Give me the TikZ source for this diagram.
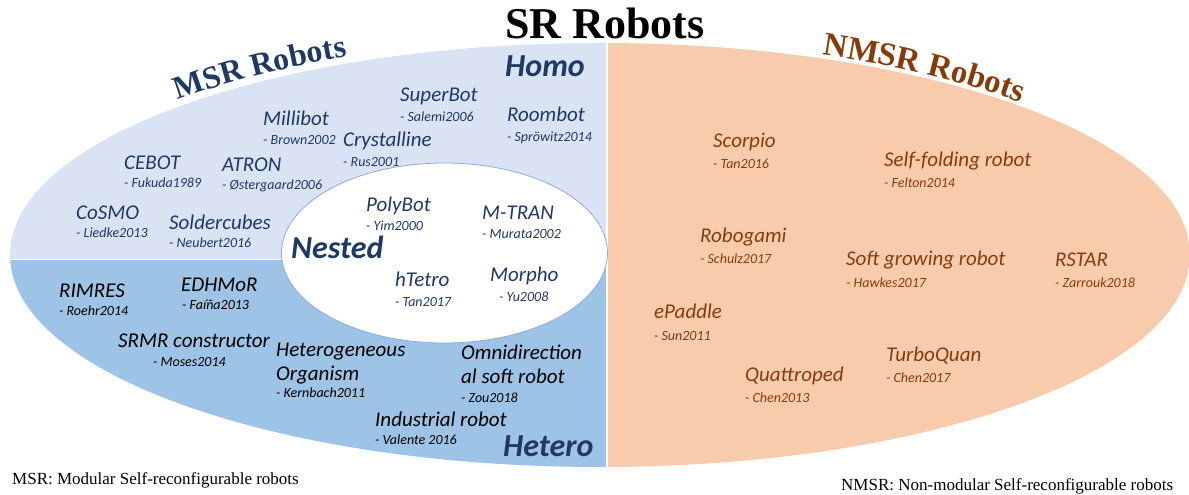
\documentclass[tikz,border=0pt]{standalone}
\usepackage{fontspec}
\setmainfont{Liberation Serif}
\newfontfamily\calfont{Carlito}
\usepackage{tikz}
\usetikzlibrary{positioning,decorations.text}

\definecolor{msrtop}{HTML}{DAE3F3}
\definecolor{msrbot}{HTML}{9DC3E6}
\definecolor{nmsrfill}{HTML}{F8CBAD}
\definecolor{navy}{HTML}{1F3864}
\definecolor{brownish}{HTML}{843C0C}
\definecolor{nestline}{HTML}{8FAADC}

\begin{document}
\begin{tikzpicture}[x=1pt, y=1pt,
    robot/.style={anchor=base west, inner sep=0pt, font=\calfont\itshape\fontsize{21}{24}\selectfont},
    refl/.style={inner sep=0pt, font=\calfont\itshape\fontsize{14}{16}\selectfont},
    classlbl/.style={anchor=base west, inner sep=0pt, text=navy, font=\calfont\bfseries\itshape\fontsize{32}{34}\selectfont},
    footnote/.style={anchor=base west, inner sep=0pt, font=\fontsize{17}{19}\selectfont}]
    \useasboundingbox (0,0) rectangle (1189,495);

    % Regions
    \begin{scope}
        \clip (600,240) ellipse [x radius=590, y radius=212];
        \fill[msrtop] (0,235.5) rectangle (606,495);
        \fill[msrbot] (0,0) rectangle (606,234.5);
        \fill[nmsrfill] (608,0) rectangle (1189,495);
    \end{scope}
    \draw[nestline, line width=0.8pt, fill=white] (444.5,242) ellipse [x radius=163, y radius=90];

    % Titles
    \node[anchor=base, inner sep=0pt, font=\bfseries\fontsize{44}{44}\selectfont] (title) at (605,456) {SR Robots};
    \path[decorate, decoration={text along path, text align=left, text color=navy,
        text={|\bfseries\fontsize{32}{32}\selectfont|MSR Robots}}]
        (177.9,394.9) arc[start angle=135, end angle=108, x radius=597, y radius=219];
    \path[decorate, decoration={text along path, text align=left, text color=brownish,
        text={|\bfseries\fontsize{33}{33}\selectfont|NMSR Robots}}]
        (822.5,440.3) arc[start angle=68, end angle=36, x radius=594, y radius=216];

    \node[classlbl] (homo) at (505,418) {Homo};
    \node[classlbl] (nested) at (291,236) {Nested};
    \node[classlbl] (hetero) at (503,38) {Hetero};

    % Homo
    \begin{scope}[every node/.append style={text=navy}]
    \node[robot] (millibot) at (263,369) {Millibot};
    \node[refl, below=19pt of millibot.base west, anchor=base west] (millibot_ref) {- Brown2002};
    \node[robot] (cebot) at (124,325) {CEBOT};
    \node[refl, below=18pt of cebot.base west, anchor=base west] (cebot_ref) {- Fukuda1989};
    \node[robot] (atron) at (222,323) {ATRON};
    \node[refl, below=18pt of atron.base west, anchor=base west] (atron_ref) {- Østergaard2006};
    \node[robot] (cosmo) at (76,275) {CoSMO};
    \node[refl, below=18pt of cosmo.base west, anchor=base west] (cosmo_ref) {- Liedke2013};
    \node[robot] (soldercubes) at (169,265) {Soldercubes};
    \node[refl, below=18pt of soldercubes.base west, anchor=base west] (soldercubes_ref) {- Neubert2016};
    \node[robot] (crystalline) at (343,348) {Crystalline};
    \node[refl, below=20pt of crystalline.base west, anchor=base west] (crystalline_ref) {- Rus2001};
    \node[robot] (superbot) at (400,393) {SuperBot};
    \node[refl, below=20pt of superbot.base west, anchor=base west] (superbot_ref) {- Salemi2006};
    \node[robot] (roombot) at (507,373) {Roombot};
    \node[refl, below=20pt of roombot.base west, anchor=base west] (roombot_ref) {- Spröwitz2014};

    % Nested
    \node[robot] (polybot) at (366,283) {PolyBot};
    \node[refl, below=19pt of polybot.base west, anchor=base west] (polybot_ref) {- Yim2000};
    \node[robot] (mtran) at (482,275) {M-TRAN};
    \node[refl, below=19pt of mtran.base west, anchor=base west] (mtran_ref) {- Murata2002};
    \node[robot] (htetro) at (395,208) {hTetro};
    \node[refl, below=20pt of htetro.base west, anchor=base west] (htetro_ref) {- Tan2017};
    \node[robot] (morpho) at (490,213) {Morpho};
    \node[refl, below=20pt of morpho.base west, anchor=base west, xshift=9pt] (morpho_ref) {- Yu2008};
    \end{scope}

    % Hetero
    \node[robot] (rimres) at (59,197) {RIMRES};
    \node[refl, below=18pt of rimres.base west, anchor=base west] (rimres_ref) {- Roehr2014};
    \node[robot] (edhmor) at (181,203) {EDHMoR};
    \node[refl, below=18pt of edhmor.base west, anchor=base west, xshift=1pt] (edhmor_ref) {- Faíña2013};
    \node[robot] (srmr) at (118,147) {SRMR constructor};
    \node[refl, below=19pt of srmr.base west, anchor=base west, xshift=35pt] (srmr_ref) {- Moses2014};
    \node[robot, align=left] (hetorg) at (276,114) {Heterogeneous\\Organism};
    \node[refl, below=17pt of hetorg.base west, anchor=base west] (hetorg_ref) {- Kernbach2011};
    \node[robot, align=left] (omni) at (461,111) {Omnidirection\\al soft robot};
    \node[refl, below=19pt of omni.base west, anchor=base west] (omni_ref) {- Zou2018};
    \node[robot] (industrial) at (375,68) {Industrial robot};
    \node[refl, below=18pt of industrial.base west, anchor=base west] (industrial_ref) {- Valente 2016};

    % NMSR
    \begin{scope}[every node/.append style={text=brownish}]
    \node[robot] (scorpio) at (713,347) {Scorpio};
    \node[refl, below=21pt of scorpio.base west, anchor=base west] (scorpio_ref) {- Tan2016};
    \node[robot] (selffold) at (884,328) {Self-folding robot};
    \node[refl, below=21pt of selffold.base west, anchor=base west] (selffold_ref) {- Felton2014};
    \node[robot] (robogami) at (700,252) {Robogami};
    \node[refl, below=21pt of robogami.base west, anchor=base west] (robogami_ref) {- Schulz2017};
    \node[robot] (softgrow) at (846,229) {Soft growing robot};
    \node[refl, below=22pt of softgrow.base west, anchor=base west] (softgrow_ref) {- Hawkes2017};
    \node[robot] (rstar) at (1055,228) {RSTAR};
    \node[refl, below=21pt of rstar.base west, anchor=base west] (rstar_ref) {- Zarrouk2018};
    \node[robot] (epaddle) at (654,176) {ePaddle};
    \node[refl, below=22pt of epaddle.base west, anchor=base west] (epaddle_ref) {- Sun2011};
    \node[robot] (turboquan) at (886,133) {TurboQuan};
    \node[refl, below=21pt of turboquan.base west, anchor=base west] (turboquan_ref) {- Chen2017};
    \node[robot] (quattroped) at (745,113) {Quattroped};
    \node[refl, below=21pt of quattroped.base west, anchor=base west] (quattroped_ref) {- Chen2013};
    \end{scope}

    % Footnotes
    \node[footnote] (msr_note) at (12,10) {MSR: Modular Self-reconfigurable robots};
    \node[footnote] (nmsr_note) at (841,4) {NMSR: Non-modular Self-reconfigurable robots};
\end{tikzpicture}
\end{document}
